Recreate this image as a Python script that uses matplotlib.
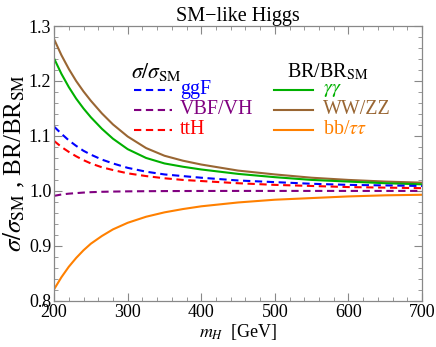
import matplotlib
matplotlib.use("Agg")
import matplotlib.pyplot as plt
from matplotlib.ticker import MultipleLocator

plt.rcParams['font.family'] = ['Liberation Serif', 'DejaVu Serif']
plt.rcParams['mathtext.fontset'] = 'stix'

m_H = [200, 210, 220, 230, 240, 250, 265, 280, 300, 325, 350, 375, 400, 450, 500, 550, 600, 650, 700]

ggF = [1.117, 1.104, 1.092, 1.082, 1.073, 1.066, 1.057, 1.050, 1.042, 1.035, 1.030, 1.027, 1.024, 1.019, 1.016, 1.013, 1.011, 1.010, 1.009]
vbf_vh = [0.991, 0.9935, 0.995, 0.996, 0.997, 0.9977, 0.9984, 0.9988, 0.9992, 0.9995, 0.9997, 0.9998, 0.9999, 1.0, 1.0, 1.0, 1.0, 1.0, 1.0]
ttH = [1.091, 1.080, 1.071, 1.063, 1.056, 1.050, 1.043, 1.038, 1.032, 1.027, 1.023, 1.020, 1.018, 1.014, 1.011, 1.009, 1.007, 1.006, 1.005]
gamgam = [1.241, 1.213, 1.189, 1.168, 1.150, 1.134, 1.113, 1.095, 1.076, 1.060, 1.050, 1.044, 1.039, 1.031, 1.025, 1.020, 1.017, 1.014, 1.012]
ww_zz = [1.276, 1.247, 1.222, 1.200, 1.181, 1.164, 1.141, 1.121, 1.099, 1.078, 1.064, 1.055, 1.048, 1.037, 1.030, 1.024, 1.020, 1.017, 1.015]
bb_tautau = [0.821, 0.843, 0.862, 0.878, 0.892, 0.904, 0.918, 0.930, 0.942, 0.953, 0.961, 0.967, 0.972, 0.979, 0.984, 0.987, 0.990, 0.992, 0.993]

xticks = [200, 300, 400, 500, 600, 700]
yticks = [0.8, 0.9, 1.0, 1.1, 1.2, 1.3]

c_blue = '#0000ff'
c_purple = '#800080'
c_red = '#ff0000'
c_green = '#00b000'
c_brown = '#996633'
c_orange = '#ff8000'

fig = plt.figure(figsize=(4.36, 3.47), dpi=100)
ax = fig.add_axes([0.124, 0.133, 0.844, 0.792])

dash = (0, (3.5, 2.2))
lw = 1.5
ax.plot(m_H, ww_zz, color=c_brown, lw=lw)
ax.plot(m_H, gamgam, color=c_green, lw=lw)
ax.plot(m_H, bb_tautau, color=c_orange, lw=lw)
ax.plot(m_H, ggF, color=c_blue, lw=lw, linestyle=dash)
ax.plot(m_H, ttH, color=c_red, lw=lw, linestyle=dash)
ax.plot(m_H, vbf_vh, color=c_purple, lw=lw, linestyle=dash)

ax.set_xlim(200, 700)
ax.set_ylim(0.8, 1.3)
ax.set_xticks(xticks)
ax.set_yticks(yticks)
ax.set_yticklabels([f'{v:.1f}' for v in yticks])
ax.xaxis.set_minor_locator(MultipleLocator(20))
ax.yaxis.set_minor_locator(MultipleLocator(0.02))
ax.tick_params(which='both', direction='in', top=True, right=True, color='#888888', labelsize=13)
ax.tick_params(which='major', length=6, width=0.8, pad=2)
ax.tick_params(which='minor', length=3, width=0.6)
for s in ax.spines.values():
    s.set_color('#888888')
    s.set_linewidth(0.9)

ax.set_xlabel(r'$m_H$  [GeV]', fontsize=13, labelpad=1)
ax.set_ylabel(r'$\sigma/\sigma_{\rm SM}$ , BR/BR$_{\rm SM}$', fontsize=18, labelpad=1)
ax.set_title('SM\u2212like Higgs', fontsize=14.5, pad=3)

# legend (manual, two columns with headers)
def ax_xy(px, py):
    return ((px - 54) / 368.0, (301 - py) / 275.0)

hx, hy = ax_xy(131, 72)
ax.text(hx, hy, r'$\sigma/\sigma_{\rm SM}$', transform=ax.transAxes, fontsize=15.5, va='center', ha='left')
hx, hy = ax_xy(287, 72)
ax.text(hx, hy, r'BR/BR$_{\rm SM}$', transform=ax.transAxes, fontsize=14.5, va='center', ha='left')

rows_left = [('ggF', c_blue), ('VBF/VH', c_purple), ('ttH', c_red)]
rows_right = [(r'$\gamma\gamma$', c_green), ('WW/ZZ', c_brown), (r'bb/$\tau\tau$', c_orange)]
row_y = [90, 110, 130]
for (lab, col), py in zip(rows_left, row_y):
    x0, y0 = ax_xy(134, py)
    x1, _ = ax_xy(172, py)
    ax.plot([x0, x1], [y0, y0], transform=ax.transAxes, color=col, lw=lw, linestyle=dash)
    tx, _ = ax_xy(180, py)
    ax.text(tx, y0, lab, transform=ax.transAxes, color=col, fontsize=14.4, va='center', ha='left')
for (lab, col), py in zip(rows_right, row_y):
    x0, y0 = ax_xy(274, py)
    x1, _ = ax_xy(313, py)
    ax.plot([x0, x1], [y0, y0], transform=ax.transAxes, color=col, lw=lw)
    tx, _ = ax_xy(323, py)
    ax.text(tx, y0, lab, transform=ax.transAxes, color=col, fontsize=14.4, va='center', ha='left')

fig.savefig('out.png', dpi=100)
